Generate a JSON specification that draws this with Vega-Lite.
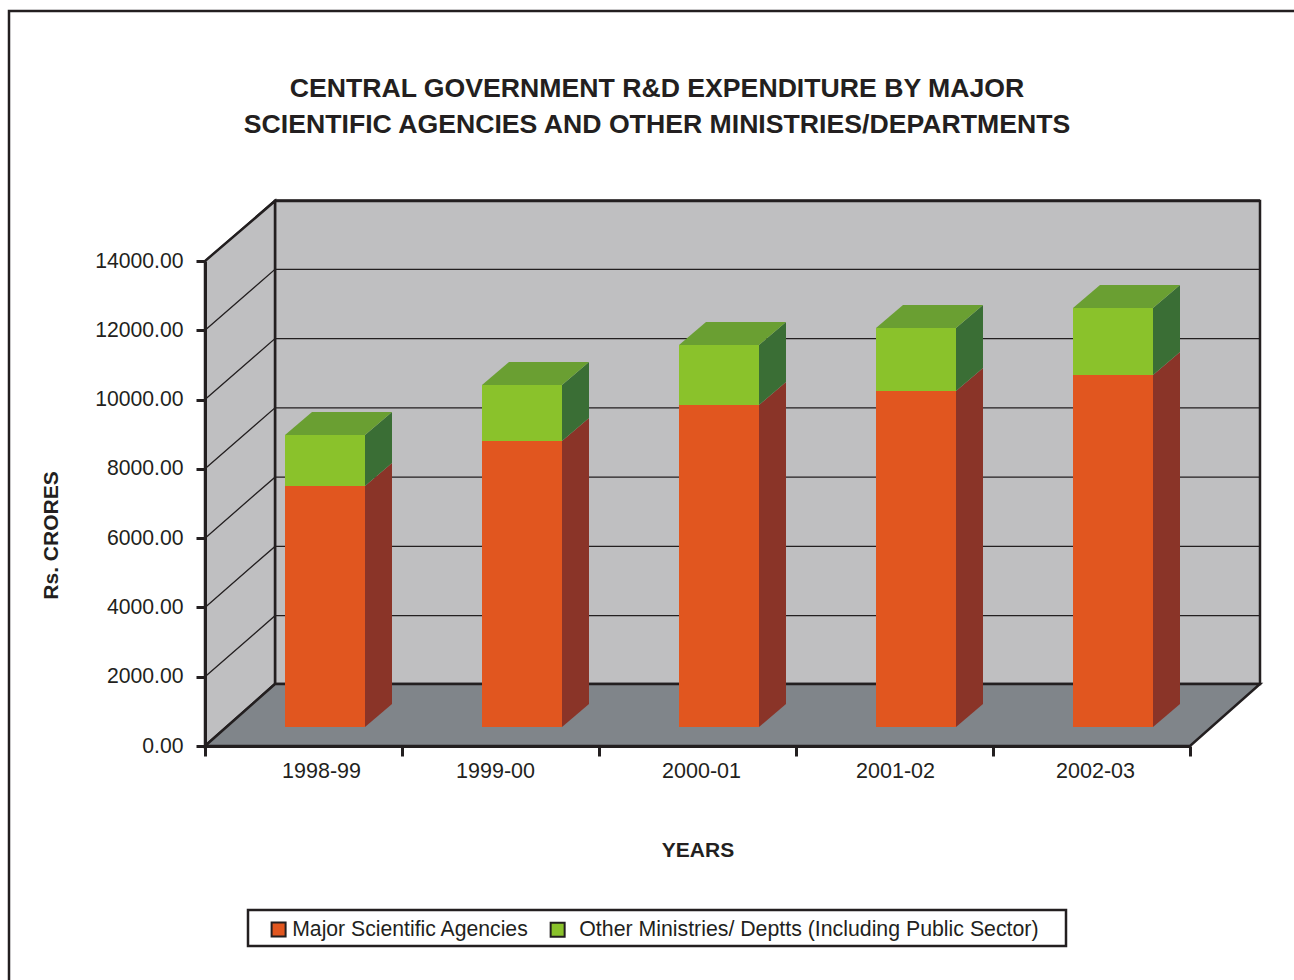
{
"$schema":"https://vega.github.io/schema/vega-lite/v6.json",
"width":985,"height":485,
"autosize":{"type":"none"},
"padding":{"left":205,"top":261,"right":104,"bottom":234},
"background":"#ffffff",
"config":{"view":{"stroke":null},"font":"Liberation Sans"},
"title":{"text":["CENTRAL GOVERNMENT R&D EXPENDITURE BY MAJOR","SCIENTIFIC AGENCIES AND OTHER MINISTRIES/DEPARTMENTS"],"font":"Liberation Sans","fontSize":26.65,"fontWeight":"bold","color":"#231f20","lineHeight":36,"anchor":"start","frame":"group","align":"center","dx":452,"dy":133,"offset":0},
"datasets":{
"bars":[
{"year":"1998-99","series":"Major Scientific Agencies","value":6955},
{"year":"1998-99","series":"Other Ministries/ Deptts (Including Public Sector)","value":1472},
{"year":"1999-00","series":"Major Scientific Agencies","value":8254},
{"year":"1999-00","series":"Other Ministries/ Deptts (Including Public Sector)","value":1616},
{"year":"2000-01","series":"Major Scientific Agencies","value":9293},
{"year":"2000-01","series":"Other Ministries/ Deptts (Including Public Sector)","value":1731},
{"year":"2001-02","series":"Major Scientific Agencies","value":9697},
{"year":"2001-02","series":"Other Ministries/ Deptts (Including Public Sector)","value":1818},
{"year":"2002-03","series":"Major Scientific Agencies","value":10159},
{"year":"2002-03","series":"Other Ministries/ Deptts (Including Public Sector)","value":1933}
],
"ticks":[{"tick":2000},{"tick":4000},{"tick":6000},{"tick":8000},{"tick":10000},{"tick":12000},{"tick":14000}],
"origin":[{"year":"1998-99","tick":0}]
},
"data":{"name":"bars"},
"transform":[{"stack":"value","groupby":["year"],"sort":[{"field":"series","order":"ascending"}],"as":["v0","v1"]}],
"encoding":{
"x":{"field":"year","type":"nominal","scale":{"type":"band","paddingInner":0,"paddingOuter":0},
"axis":{"title":"YEARS","zindex":1,"titleFontSize":21,"titleFontWeight":"bold","titleColor":"#231f20","titleFont":"Liberation Sans","titlePadding":58,"labelAngle":0,"labelFontSize":21.5,"labelColor":"#231f20","labelFont":"Liberation Sans","labelPadding":4,
"labelOffset":{"condition":[{"test":"datum.label == '1998-99'","value":17.5},{"test":"datum.label == '1999-00'","value":-5.5},{"test":"datum.label == '2001-02'","value":0.5}],"value":3.5},
"tickBand":"extent","tickSize":10,"tickColor":"#231f20","tickWidth":3,"domainColor":"#231f20","domainWidth":3}}
},
"layer":[
{"data":{"name":"origin"},"transform":[],
 "mark":{"type":"point","filled":true,"opacity":1,"size":4,"fill":"#bfbfc1","stroke":"#231f20","strokeWidth":2.5,"strokeJoin":"miter","shape":"M70,-62 L1055,-62 L1055,-545 L70,-545 Z"},
 "encoding":{"x":{"field":"year","type":"nominal","bandPosition":0},"y":{"field":"tick","type":"quantitative","scale":{"domain":[0,14000],"nice":false},
 "axis":{"title":"Rs. CRORES","zindex":1,"titleFontSize":21,"titleFontWeight":"bold","titleColor":"#231f20","titleFont":"Liberation Sans","titleX":-144,"titleY":274,"values":[0,2000,4000,6000,8000,10000,12000,14000],"format":".2f","grid":false,"labelFontSize":21.2,"labelColor":"#231f20","labelFont":"Liberation Sans","labelPadding":13,"tickSize":9,"tickColor":"#231f20","tickWidth":3,"domainColor":"#231f20","domainWidth":3}}}},
{"data":{"name":"origin"},"transform":[],
 "mark":{"type":"point","filled":true,"opacity":1,"size":4,"fill":"#bfbfc1","stroke":"#231f20","strokeWidth":2.5,"strokeJoin":"miter","shape":"M0,0 L70,-62 L70,-545 L0,-485 Z"},
 "encoding":{"x":{"field":"year","type":"nominal","bandPosition":0},"y":{"field":"tick","type":"quantitative"}}},
{"data":{"name":"ticks"},"transform":[],
 "mark":{"type":"point","filled":false,"opacity":1,"size":4,"stroke":"#231f20","strokeWidth":1.3,"shape":"M0,0 L70,-61 L1055,-61"},
 "encoding":{"x":{"datum":"1998-99","bandPosition":0},"y":{"field":"tick","type":"quantitative"}}},
{"data":{"name":"origin"},"transform":[],
 "mark":{"type":"point","filled":true,"opacity":1,"size":4,"fill":"#80858a","stroke":"#231f20","strokeWidth":2.5,"strokeJoin":"miter","shape":"M0,0 L985,0 L1055,-62 L70,-62 Z"},
 "encoding":{"x":{"field":"year","type":"nominal","bandPosition":0},"y":{"field":"tick","type":"quantitative"}}},
{"mark":{"type":"bar","size":27,"xOffset":75,"yOffset":-19,"y2Offset":-42},
 "encoding":{"y":{"field":"v1","type":"quantitative","stack":null},"y2":{"field":"v0"},
 "color":{"field":"series","type":"nominal","legend":null,"scale":{"range":["#8a3428","#3a6e35"]}}}},
{"mark":{"type":"point","filled":true,"opacity":1,"size":4,"shape":"M61.5,-19 L88.5,-42 L88.5,-18 L61.5,-18 Z"},
 "encoding":{"y":{"field":"v1","type":"quantitative","stack":null},
 "color":{"field":"series","type":"nominal","legend":null,"scale":{"range":["#8a3428","#3a6e35"]}}}},
{"mark":{"type":"point","filled":true,"opacity":1,"size":4,"shape":"M61.5,-19 L88.5,-42 L88.5,-43 L61.5,-43 Z"},
 "encoding":{"y":{"field":"v0","type":"quantitative","stack":null},
 "color":{"field":"series","type":"nominal","legend":null,"scale":{"range":["#8a3428","#3a6e35"]}}}},
{"transform":[{"filter":"datum.v0 > 0"}],
 "mark":{"type":"point","filled":true,"opacity":1,"size":4,"fill":"#6a9f32","shape":"M-18.5,-19 L61.5,-19 L88.5,-42 L8.5,-42 Z"},
 "encoding":{"y":{"field":"v1","type":"quantitative","stack":null}}},
{"transform":[{"filter":"datum.v0 == 0"}],
 "mark":{"type":"bar","size":80,"xOffset":21.5,"yOffset":-19,"y2Offset":-19},
 "encoding":{"y":{"field":"v1","type":"quantitative","stack":null},
 "y2":{"field":"v0"},
 "color":{"field":"series","type":"nominal","scale":{"range":["#e1561f"]},
   "legend":{"title":null,"orient":"none","legendX":63,"legendY":658,"symbolType":"square","symbolSize":196,"symbolStrokeColor":"#231f20","symbolStrokeWidth":2,"symbolOpacity":1,"labelFontSize":21.2,"labelColor":"#231f20","labelFont":"Liberation Sans","labelOffset":3,"labelLimit":600}}}},
{"transform":[{"filter":"datum.v0 > 0"}],
 "mark":{"type":"bar","size":80,"xOffset":21.5,"yOffset":-19,"y2Offset":-19},
 "encoding":{"y":{"field":"v1","type":"quantitative","stack":null},
 "y2":{"field":"v0"},
 "color":{"field":"series","type":"nominal","scale":{"range":["#8ac22b"]},
   "legend":{"title":null,"orient":"none","legendX":342,"legendY":658,"symbolType":"square","symbolSize":196,"symbolStrokeColor":"#231f20","symbolStrokeWidth":2,"symbolOpacity":1,"labelFontSize":21.3,"labelColor":"#231f20","labelFont":"Liberation Sans","labelOffset":11,"labelLimit":600}}}},
{"data":{"name":"origin"},"transform":[],
 "mark":{"type":"point","filled":false,"opacity":1,"size":4,"stroke":"#231f20","strokeWidth":2.5,"strokeJoin":"miter","shape":"M43,164 L861,164 L861,200 L43,200 Z"},
 "encoding":{"x":{"field":"year","type":"nominal","bandPosition":0},"y":{"field":"tick","type":"quantitative"}}},
{"data":{"name":"origin"},"transform":[],
 "mark":{"type":"point","filled":false,"opacity":1,"size":4,"stroke":"#231f20","strokeWidth":2.5,"strokeJoin":"miter","shape":"M-196,240 L-196,-735 L1095,-735"},
 "encoding":{"x":{"field":"year","type":"nominal","bandPosition":0},"y":{"field":"tick","type":"quantitative"}}}
],
"resolve":{"scale":{"color":"independent"}}
}
